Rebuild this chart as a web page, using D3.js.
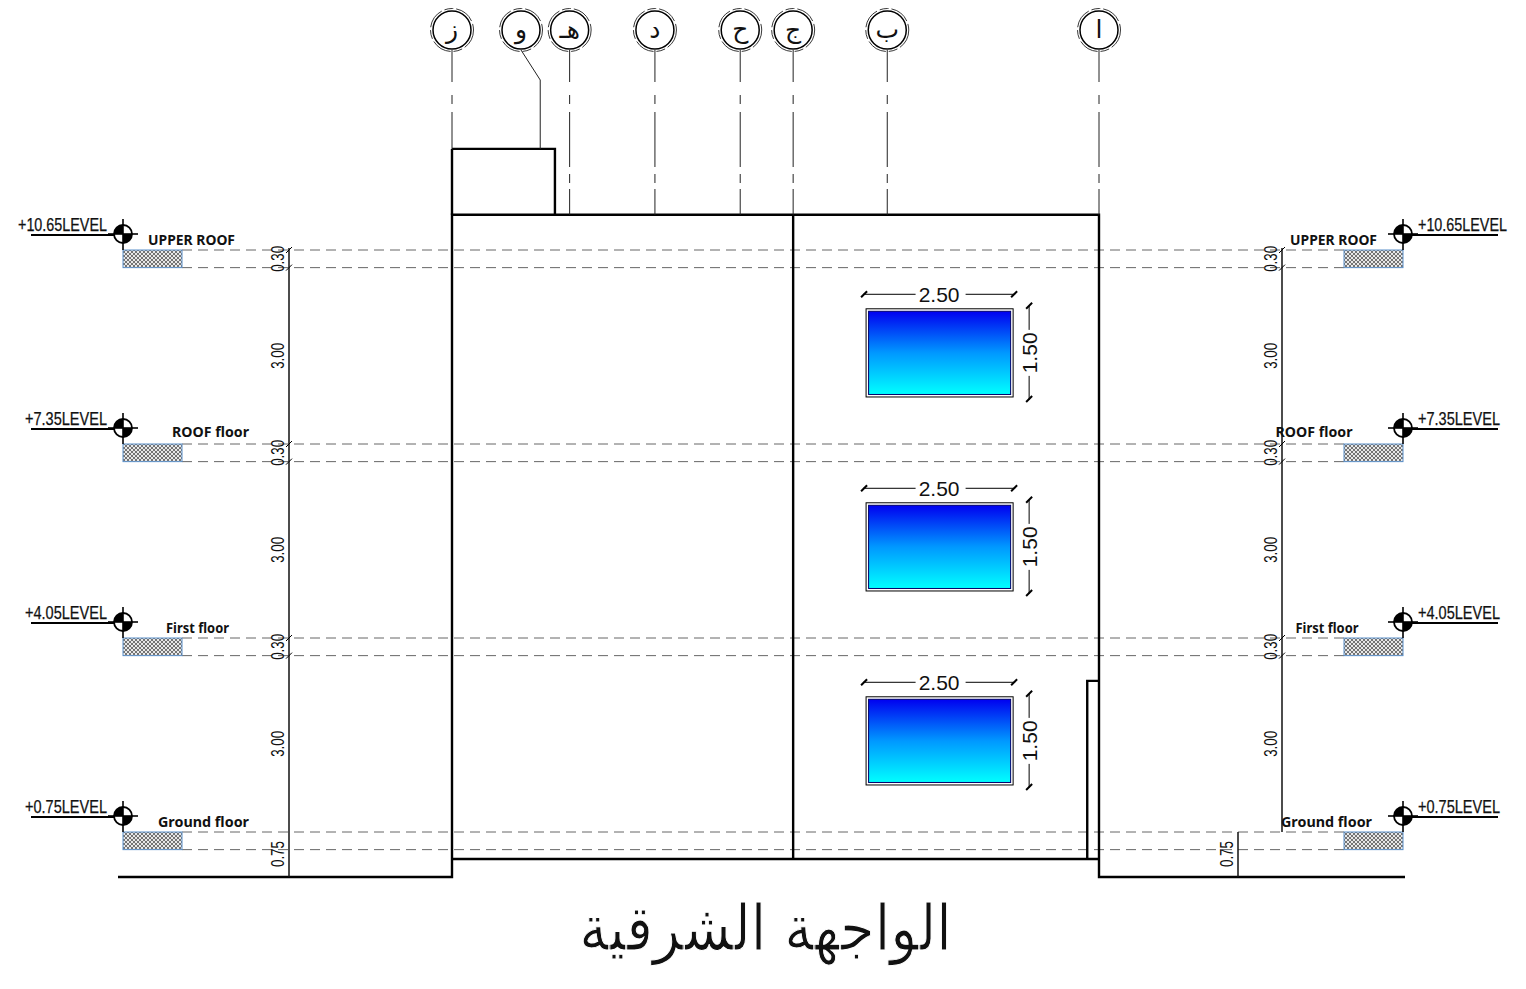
<!DOCTYPE html>
<html><head><meta charset="utf-8">
<script src="https://cdn.jsdelivr.net/npm/d3@7/dist/d3.min.js"></script>
<style>html,body{margin:0;background:#fff;overflow:hidden}svg{display:block}</style>
</head><body><svg id="c" width="1526" height="989"></svg>
<script>
// ---- data (metres) ----
const levels = [0.75, 4.05, 7.35, 10.65];
const levelLabels = ["+0.75LEVEL", "+4.05LEVEL", "+7.35LEVEL", "+10.65LEVEL"];
const floorNames = ["Ground floor", "First floor", "ROOF floor", "UPPER ROOF"];
const slabDepth = 0.30;
const storeyDims = ["3.00", "3.00", "3.00"];
const gridNames = ["ز", "و", "هـ", "د", "ح", "ج", "ب", "ا"];
const gridAt = [0, 1.5, 2.0, 3.45, 4.9, 5.8, 7.4, 11.0];
const windowSills = [1.55, 4.85, 8.15];
const windowLeft = 7.04, windowWidth = 2.5, windowHeight = 1.5;
const titleText = "الواجهة الشرقية";

// ---- scales (same drawing scale both ways) ----
const x = d3.scaleLinear().domain([0, 11]).range([452, 1099]);
const y = d3.scaleLinear().domain([0.75, 10.65]).range([832, 250]);

const svg = d3.select("#c");
const defs = svg.append("defs");
const hatch = defs.append("pattern").attr("id", "hatch").attr("width", 4).attr("height", 4).attr("patternUnits", "userSpaceOnUse");
hatch.append("rect").attr("width", 4).attr("height", 4).attr("fill", "#e8e8e8");
hatch.append("path").attr("d", "M0 0L4 4M4 0L0 4").attr("stroke", "#666").attr("stroke-width", .9);
const grad = defs.append("linearGradient").attr("id", "glass").attr("x1", 0).attr("y1", 0).attr("x2", 0).attr("y2", 1);
grad.append("stop").attr("offset", 0).attr("stop-color", "#0000f0");
grad.append("stop").attr("offset", 0.5).attr("stop-color", "#0098ff");
grad.append("stop").attr("offset", 1).attr("stop-color", "#00ffff");

const line = (g, x1, y1, x2, y2, w = 2.4, c = "#000") => g.append("line").attr("x1", x1).attr("y1", y1).attr("x2", x2).attr("y2", y2).attr("stroke", c).attr("stroke-width", w);
const label = (g, s, tx, ty, o = {}) => {
  const t = g.append("text").text(s).attr("x", tx).attr("y", ty)
    .attr("font-family", o.f || "Liberation Sans").attr("font-size", o.s || 14).attr("font-weight", o.w || 400)
    .attr("text-anchor", o.a || "middle").attr("fill", "#111")
    .attr("transform", o.r ? `rotate(${o.r} ${tx} ${ty})` : null);
  if (o.len) t.attr("textLength", o.len).attr("lengthAdjust", "spacingAndGlyphs");
  return t;
};

// ---- dashed level lines ----
const dashes = svg.append("g");
const groundX0 = x(0) - 334, groundX1 = x(11) + 306;
levels.forEach(l => {
  [l, l - slabDepth].forEach(v => {
    line(dashes, 182, y(v), 1344, y(v), 1, "#666").attr("stroke-dasharray", "10 6");
  });
});

// ---- building ----
const b = svg.append("g").attr("fill", "none");
const roofTop = 11.25, base = 0.29, ground = -0.015, penthouseTop = 12.37, doorTop = 3.32;
const wall = 2.4;
b.append("path").attr("stroke", "#000").attr("stroke-width", wall)
 .attr("d", `M${groundX0} ${y(ground)}H${x(0)}V${y(roofTop)}H${x(11)}V${y(ground)}H${groundX1}`);
line(b, x(0), y(base), x(11), y(base));
line(b, x(5.8), y(roofTop), x(5.8), y(base));
b.append("path").attr("stroke", "#000").attr("stroke-width", wall)
 .attr("d", `M${x(0)} ${y(penthouseTop)}H${x(1.75)}V${y(roofTop)}`);
line(b, x(0), y(penthouseTop), x(0), y(roofTop));
b.append("path").attr("stroke", "#000").attr("stroke-width", wall)
 .attr("d", `M${x(10.8)} ${y(base)}V${y(doorTop)}H${x(11)}`);

// ---- grid axes and balloons ----
const gl = svg.append("g");
gridNames.forEach((n, i) => {
  const cx = i === 1 ? 521 : x(gridAt[i]), cy = 30;
  const end = i < 2 ? y(penthouseTop) : y(roofTop);
  if (i === 1) {
    gl.append("path").attr("fill", "none").attr("stroke", "#222").attr("stroke-width", 1)
      .attr("d", `M${cx} ${cy + 20}L${x(gridAt[i])} 80V${end}`);
  } else {
    line(gl, cx, cy + 20, cx, end, 1, "#222").attr("stroke-dasharray", "32 13 9 8 55 7 9 6 55 7");
  }
  gl.append("circle").attr("cx", cx).attr("cy", cy).attr("r", 19).attr("fill", "#fff").attr("stroke", "#000").attr("stroke-width", 1.5);
  gl.append("circle").attr("cx", cx).attr("cy", cy).attr("r", 21.5).attr("fill", "none").attr("stroke", "#222").attr("stroke-width", .9).attr("stroke-dasharray", "20 3 9 3");
  label(gl, n, cx, cy + 8, {f: "DejaVu Sans", s: 25});
});

// ---- windows ----
const slash = (g, px, py) => g.append("path").attr("d", `M${px - 3} ${py + 3}L${px + 3} ${py - 3}`).attr("stroke", "#000").attr("stroke-width", 2);
const wg = svg.append("g");
windowSills.forEach(s => {
  const l = x(windowLeft), r = x(windowLeft + windowWidth), t = y(s + windowHeight), bt = y(s);
  wg.append("rect").attr("x", l).attr("y", t).attr("width", r - l).attr("height", bt - t).attr("fill", "#fff").attr("stroke", "#000").attr("stroke-width", 1);
  wg.append("rect").attr("x", l + 2.5).attr("y", t + 2.5).attr("width", r - l - 5).attr("height", bt - t - 5).attr("fill", "url(#glass)").attr("stroke", "#00006a").attr("stroke-width", 1);
  const dy = t - 14.5, mid = (l + r) / 2;
  line(wg, l - 3, dy, mid - 24, dy, 1);
  line(wg, mid + 26, dy, r + 2, dy, 1);
  slash(wg, l - 2, dy); slash(wg, r + 1, dy);
  label(wg, "2.50", mid - 0.5, dy + 7.5, {s: 21});
  const dx = r + 16, my = (t + bt) / 2;
  line(wg, dx, t - 3, dx, my - 23, 1);
  line(wg, dx, my + 23, dx, bt + 3, 1);
  slash(wg, dx, t - 3); slash(wg, dx, bt + 2);
  label(wg, "1.50", dx + 8, my, {s: 21, r: -90});
});

// ---- dimension strings ----
const dimFont = {s: 18, r: -90, len: 26};
const dg = svg.append("g");
const dimX = [289, 1282];
dimX.forEach((dx, side) => {
  const lo = side === 0 ? ground : 0.75;
  line(dg, dx, y(10.65) - 2, dx, y(lo), 1.5, "#111");
  levels.slice(1).forEach(l => {
    label(dg, "0.30", dx - 4.5, y(l - slabDepth / 2), dimFont);
    [l, l - slabDepth].forEach(v => slash(dg, dx, y(v)).attr("stroke-width", 1));
  });
  storeyDims.forEach((d, i) => {
    label(dg, d, dx - 4.5, y(levels[i] + 1.5), dimFont);
  });
});
label(dg, "0.75", 284.5, y(0.375), dimFont);
line(dg, 1238, y(0.75), 1238, y(ground), 1.5, "#111");
label(dg, "0.75", 1233.5, y(0.375), dimFont);

// ---- level markers ----
const mg = svg.append("g");
const floorLeftX = [203.5, 197.5, 210.5, 191.5];
const floorRightX = [1326.5, 1327, 1314, 1333.5];
const floorRise = [5.5, 5.5, 7, 5.5];
const floorLen = [91, 63, 77, 87];
const levelTextLeft = [25, 25, 25, 18];
const levelTextRight = 1418;
const levelTextLen = [82, 82, 82, 89];
const marker = (cx, cy) => {
  mg.append("circle").attr("cx", cx).attr("cy", cy).attr("r", 9).attr("fill", "#fff").attr("stroke", "#000").attr("stroke-width", 1.8);
  const arc = d3.arc().innerRadius(0).outerRadius(9);
  [[-Math.PI / 2, 0], [Math.PI / 2, Math.PI]].forEach(a => {
    mg.append("path").attr("transform", `translate(${cx},${cy})`).attr("d", arc({startAngle: a[0], endAngle: a[1]})).attr("fill", "#000");
  });
  line(mg, cx - 15, cy, cx + 15, cy, 1.6);
  line(mg, cx, cy - 15, cx, cy + 16, 1.6);
};
levels.forEach((l, i) => {
  const cy = y(l) - 16;
  [[123, 182, 31], [1344, 1403, 1498]].forEach(([h0, h1, endX], side) => {
    const cx = side === 0 ? h0 : h1;
    mg.append("rect").attr("x", h0).attr("y", y(l)).attr("width", h1 - h0).attr("height", y(l - slabDepth) - y(l))
      .attr("fill", "url(#hatch)").attr("stroke", "#5b8fc9").attr("stroke-width", 1);
    line(mg, cx, cy + 1, endX, cy + 1, 2);
    marker(cx, cy);
    label(mg, levelLabels[i], side === 0 ? levelTextLeft[i] : levelTextRight, cy - 3.5, {s: 17.5, a: "start", len: levelTextLen[i]}).attr("stroke", "#111").attr("stroke-width", .25);
    label(mg, floorNames[i], side === 0 ? floorLeftX[i] : floorRightX[i], y(l) - floorRise[i], {f: "Noto Sans", s: 14, w: 700, len: floorLen[i]});
  });
});

// ---- title ----
label(svg, titleText, 0, 0, {f: "DejaVu Sans", s: 56})
  .attr("transform", "translate(765.5,950) scale(1,1.13)")
  .attr("stroke", "#fff").attr("stroke-width", 0.9);
</script></body></html>
